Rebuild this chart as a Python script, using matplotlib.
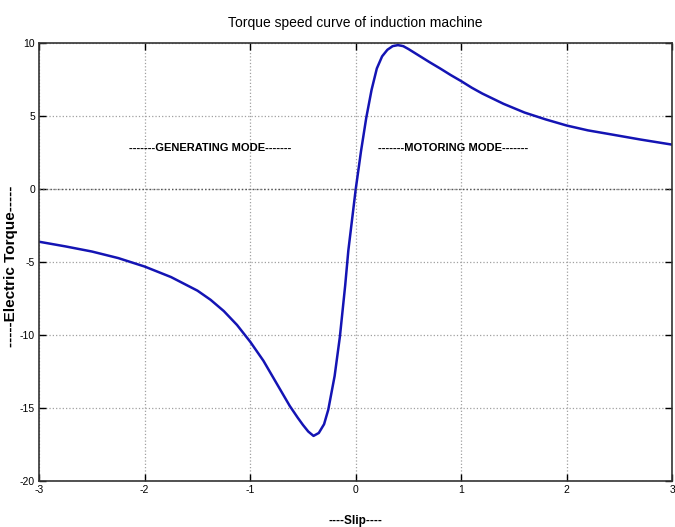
import numpy as np
import matplotlib
matplotlib.use('Agg')
import matplotlib.pyplot as plt

# slip and torque
slip = [-3.0, -2.75, -2.5, -2.25, -2.0, -1.75, -1.5, -1.375, -1.25, -1.125, -1.0,
        -0.875, -0.75, -0.625, -0.55, -0.5, -0.45, -0.4, -0.35, -0.3, -0.26, -0.2,
        -0.15, -0.1, -0.07, -0.03, 0.0, 0.05, 0.1, 0.15, 0.2, 0.25, 0.3, 0.35, 0.4,
        0.45, 0.5, 0.6, 0.7, 0.8, 0.9, 1.0, 1.1, 1.2, 1.4, 1.6, 1.8, 2.0, 2.2, 2.4,
        2.7, 3.0]
torque = [-3.6, -3.92, -4.27, -4.72, -5.3, -6.02, -6.95, -7.58, -8.35, -9.3, -10.45,
          -11.75, -13.3, -14.85, -15.65, -16.15, -16.6, -16.9, -16.7, -16.1, -15.1, -12.8,
          -10.1, -6.6, -4.2, -1.8, 0.0, 2.6, 4.9, 6.8, 8.27, 9.1, 9.55, 9.8, 9.87,
          9.8, 9.6, 9.15, 8.7, 8.27, 7.82, 7.4, 6.95, 6.55, 5.85, 5.25, 4.78, 4.36, 4.03, 3.78,
          3.4, 3.05]

xticks = [-3, -2, -1, 0, 1, 2, 3]
yticks = [-20, -15, -10, -5, 0, 5, 10]

plt.rcParams['font.family'] = ['Liberation Sans', 'DejaVu Sans']

fig = plt.figure(figsize=(6.75, 5.27), dpi=100)
ax = fig.add_axes([0.058, 0.087, 0.938, 0.831])

ax.plot(slip, torque, color='#1414b4', lw=1.8)

ax.set_xlim(-3, 3)
ax.set_ylim(-20, 10)
ax.set_xticks(xticks)
ax.set_yticks(yticks)
ax.set_xticklabels([str(t) for t in xticks], fontsize=7.5)
ax.set_yticklabels([str(t) for t in yticks], fontsize=7.5)
ax.tick_params(direction='in', length=5, width=1, top=True, right=True, pad=3)

ax.grid(True, ls=':', color='#a0a0a0', lw=0.9)
ax.axhline(0, color='#555555', ls=':', lw=1.0)
for sp in ax.spines.values():
    sp.set_linewidth(1.2)
    sp.set_color('#333333')

ax.text(-1.38, 2.8, '-------GENERATING MODE-------', ha='center', va='center',
        fontsize=8, fontweight='bold')
ax.text(0.92, 2.8, '-------MOTORING MODE-------', ha='center', va='center',
        fontsize=8, fontweight='bold')

ax.set_title('Torque speed curve of induction machine', fontsize=10, pad=12)
ax.set_xlabel('----Slip----', fontsize=8.5, fontweight='bold', labelpad=14)
ax.set_ylabel('-----Electric Torque-----', fontsize=11, fontweight='bold')
ax.yaxis.set_label_coords(-0.034, 0.49)

plt.savefig('out.png', dpi=100)
plt.close()
